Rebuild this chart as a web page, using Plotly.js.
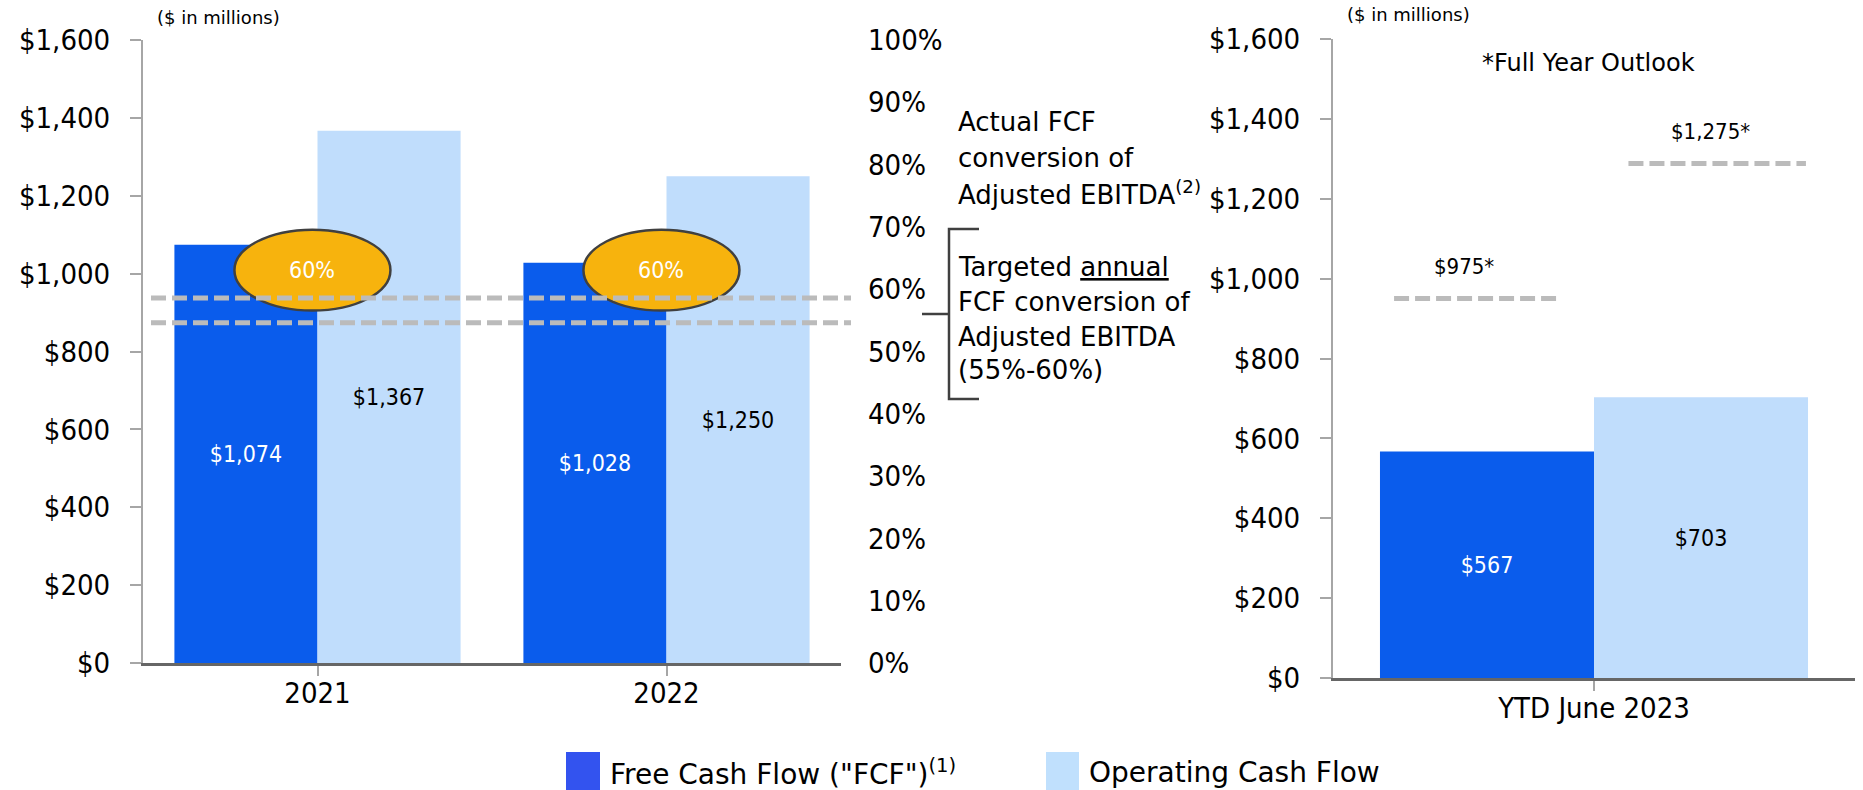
<!DOCTYPE html>
<html><head><meta charset="utf-8">
<script src="https://cdn.plot.ly/plotly-3.0.1.min.js"></script>
<style>html,body{margin:0;padding:0;background:#fff}#chart{width:1863px;height:790px}</style>
</head><body><div id="chart"></div>
<script>
// ---- data ----
const years = ['2021', '2022'];
const fcfAnnual = [1074, 1028];
const ocfAnnual = [1367, 1250];
const ytdCategory = ['YTD June 2023'];
const fcfYtd = [567];
const ocfYtd = [703];
const conversionLabels = ['60%', '60%'];
const targetBandDrawn = [58.6, 54.6];        // % (as drawn)
const outlookDrawn = [950, 1288];            // $M (as drawn)
const outlookLabels = ['$975*', '$1,275*'];
const seriesNames = ['Free Cash Flow ("FCF")<sup>(1)</sup>', 'Operating Cash Flow'];

// ---- style ----
const W = 1863, H = 790;
const px = x => x / W, py = y => 1 - y / H;
const FCF_C = '#0A5CEC', OCF_C = '#C0DDFC';
const TICKF = 'DejaVu Sans Condensed, DejaVu Sans, sans-serif';
const TEXTF = 'DejaVu Sans, sans-serif';

const barText = (color) => ({family: TICKF, size: 23, color: color});
const traces = [
  {type:'bar', x: years, y: fcfAnnual, xaxis:'x', yaxis:'y', marker:{color:FCF_C},
   texttemplate:'$%{y:,}', textposition:'inside', insidetextanchor:'middle', textangle:0,
   textfont: barText('#ffffff'), showlegend:false, hoverinfo:'skip'},
  {type:'bar', x: years, y: ocfAnnual, xaxis:'x', yaxis:'y', marker:{color:OCF_C},
   texttemplate:'$%{y:,}', textposition:'inside', insidetextanchor:'middle', textangle:0,
   textfont: barText('#000000'), showlegend:false, hoverinfo:'skip'},
  {type:'bar', x: ytdCategory, y: fcfYtd, xaxis:'x2', yaxis:'y3', marker:{color:FCF_C},
   texttemplate:'$%{y:,}', textposition:'inside', insidetextanchor:'middle', textangle:0,
   textfont: barText('#ffffff'), showlegend:false, hoverinfo:'skip'},
  {type:'bar', x: ytdCategory, y: ocfYtd, xaxis:'x2', yaxis:'y3', marker:{color:OCF_C},
   texttemplate:'$%{y:,}', textposition:'inside', insidetextanchor:'middle', textangle:0,
   textfont: barText('#000000'), showlegend:false, hoverinfo:'skip'},
  // invisible trace to create percent axis
  {type:'scatter', x: years, y: [null, null], xaxis:'x', yaxis:'y2', showlegend:false, hoverinfo:'skip'}
];

const yTick = {family: TICKF, size: 29, color:'#000'};
const dollarAxis = (dom, anchor) => ({
  domain: dom, anchor: anchor, range:[0,1600], dtick:200, tickprefix:'$', tickformat:',d',
  showgrid:false, zeroline:false, showline:true, linecolor:'#A6A6A6', linewidth:2,
  ticks:'outside', ticklen:11, tickcolor:'#A6A6A6', tickwidth:2, tickfont:yTick,
  ticklabelstandoff: 14, fixedrange:true
});
const catAxis = (dom, anchor) => ({
  domain: dom, anchor: anchor, type:'category',
  showgrid:false, zeroline:false, showline:true, linecolor:'#666666', linewidth:3,
  ticks:'outside', ticklen:10, tickcolor:'#A6A6A6', tickwidth:2, tickfont:yTick,
  ticklabelstandoff: -8, fixedrange:true
});

const shapes = [];
const annotations = [];

// Ellipses with conversion %
conversionLabels.forEach((lab, i) => {
  shapes.push({type:'circle', xref:'x', yref:'y', x0:i-0.238, x1:i+0.209, y0:905, y1:1113,
    fillcolor:'#F7B30D', line:{color:'#404040', width:2.5}, layer:'above'});
  annotations.push({xref:'x', yref:'y', x:i-0.0145, y:1009, text:lab, showarrow:false,
    font:{family:TICKF, size:23, color:'#ffffff'}});
});

// Targeted band dashed lines (left)
targetBandDrawn.forEach(v => {
  shapes.push({type:'line', xref:'paper', yref:'y2', x0:px(151), x1:px(851), y0:v, y1:v,
    line:{color:'#BBBBBB', width:5, dash:'15px,6px'}, layer:'above'});
});

// Outlook dashed lines (right)
const outlookX = [[-0.383, -0.063], [0.066, 0.406]];
const outlookLabX = [-0.249, 0.224];
outlookDrawn.forEach((v, i) => {
  shapes.push({type:'line', xref:'x2', yref:'y3', x0:outlookX[i][0], x1:outlookX[i][1], y0:v, y1:v,
    line:{color:'#BBBBBB', width:5, dash:'15px,6px'}});
  annotations.push({xref:'x2', yref:'y3', x:outlookLabX[i], y:v, yshift:32, text:outlookLabels[i],
    showarrow:false, font:{family:TICKF, size:22, color:'#000'}});
});

// Bracket
shapes.push({type:'path', xref:'paper', yref:'paper',
  path:`M ${px(979)} ${py(229)} L ${px(949)} ${py(229)} L ${px(949)} ${py(399)} L ${px(979)} ${py(399)}`,
  line:{color:'#404040', width:2.5}});
shapes.push({type:'line', xref:'paper', yref:'paper', x0:px(922), x1:px(949), y0:py(314), y1:py(314),
  line:{color:'#404040', width:2.5}});

// text blocks
const leftText = (x, y, t, size, fam) => annotations.push({xref:'paper', yref:'paper', x:px(x), y:py(y),
  xanchor:'left', yanchor:'middle', text:t, showarrow:false, align:'left',
  font:{family: fam || TEXTF, size:size, color:'#000'}});
const centerText = (x, y, t, size, fam) => annotations.push({xref:'paper', yref:'paper', x:px(x), y:py(y),
  xanchor:'center', yanchor:'middle', text:t, showarrow:false,
  font:{family: fam || TEXTF, size:size, color:'#000'}});

leftText(155, 17, '($ in millions)', 18);
leftText(1345, 15, '($ in millions)', 18);
centerText(1588, 63, '*Full Year Outlook', 24);

['Actual FCF', 'conversion of', 'Adjusted EBITDA<sup>(2)</sup>'].forEach((t, i) =>
  leftText(956, [122, 158, 193][i], t, 26));
['Targeted <u>annual</u>', 'FCF conversion of', 'Adjusted EBITDA', '(55%-60%)'].forEach((t, i) =>
  leftText(956, [267, 302, 337, 370][i], t, 26));

// custom legend
const legendSw = [[566, 600, '#3353EF'], [1046, 1079, '#C0E0FD']];
const legendTx = [608, 1087];
seriesNames.forEach((n, i) => {
  shapes.push({type:'rect', xref:'paper', yref:'paper', x0:px(legendSw[i][0]), x1:px(legendSw[i][1]),
    y0:py(790), y1:py(752), fillcolor:legendSw[i][2], line:{width:0}});
  leftText(legendTx[i], 772, n, 28);
});

const layout = {
  width: W, height: H, margin:{l:0, r:0, t:0, b:0},
  paper_bgcolor:'#fff', plot_bgcolor:'rgba(0,0,0,0)',
  font:{family: TEXTF, color:'#000'},
  barmode:'group', bargap:0.18, bargroupgap:0, showlegend:false,
  xaxis: catAxis([px(143), px(841)], 'y'),
  yaxis: dollarAxis([py(663), py(40)], 'x'),
  yaxis2: {overlaying:'y', side:'right', anchor:'x', range:[0,100], dtick:10, ticksuffix:'%',
    showgrid:false, zeroline:false, showline:false, ticks:'', tickfont:yTick,
    ticklabelstandoff: 26, fixedrange:true},
  xaxis2: catAxis([px(1333), px(1855)], 'y3'),
  yaxis3: dollarAxis([py(678), py(39)], 'x2'),
  shapes: shapes, annotations: annotations
};

Plotly.newPlot('chart', traces, layout, {staticPlot:true, displayModeBar:false});
</script></body></html>
